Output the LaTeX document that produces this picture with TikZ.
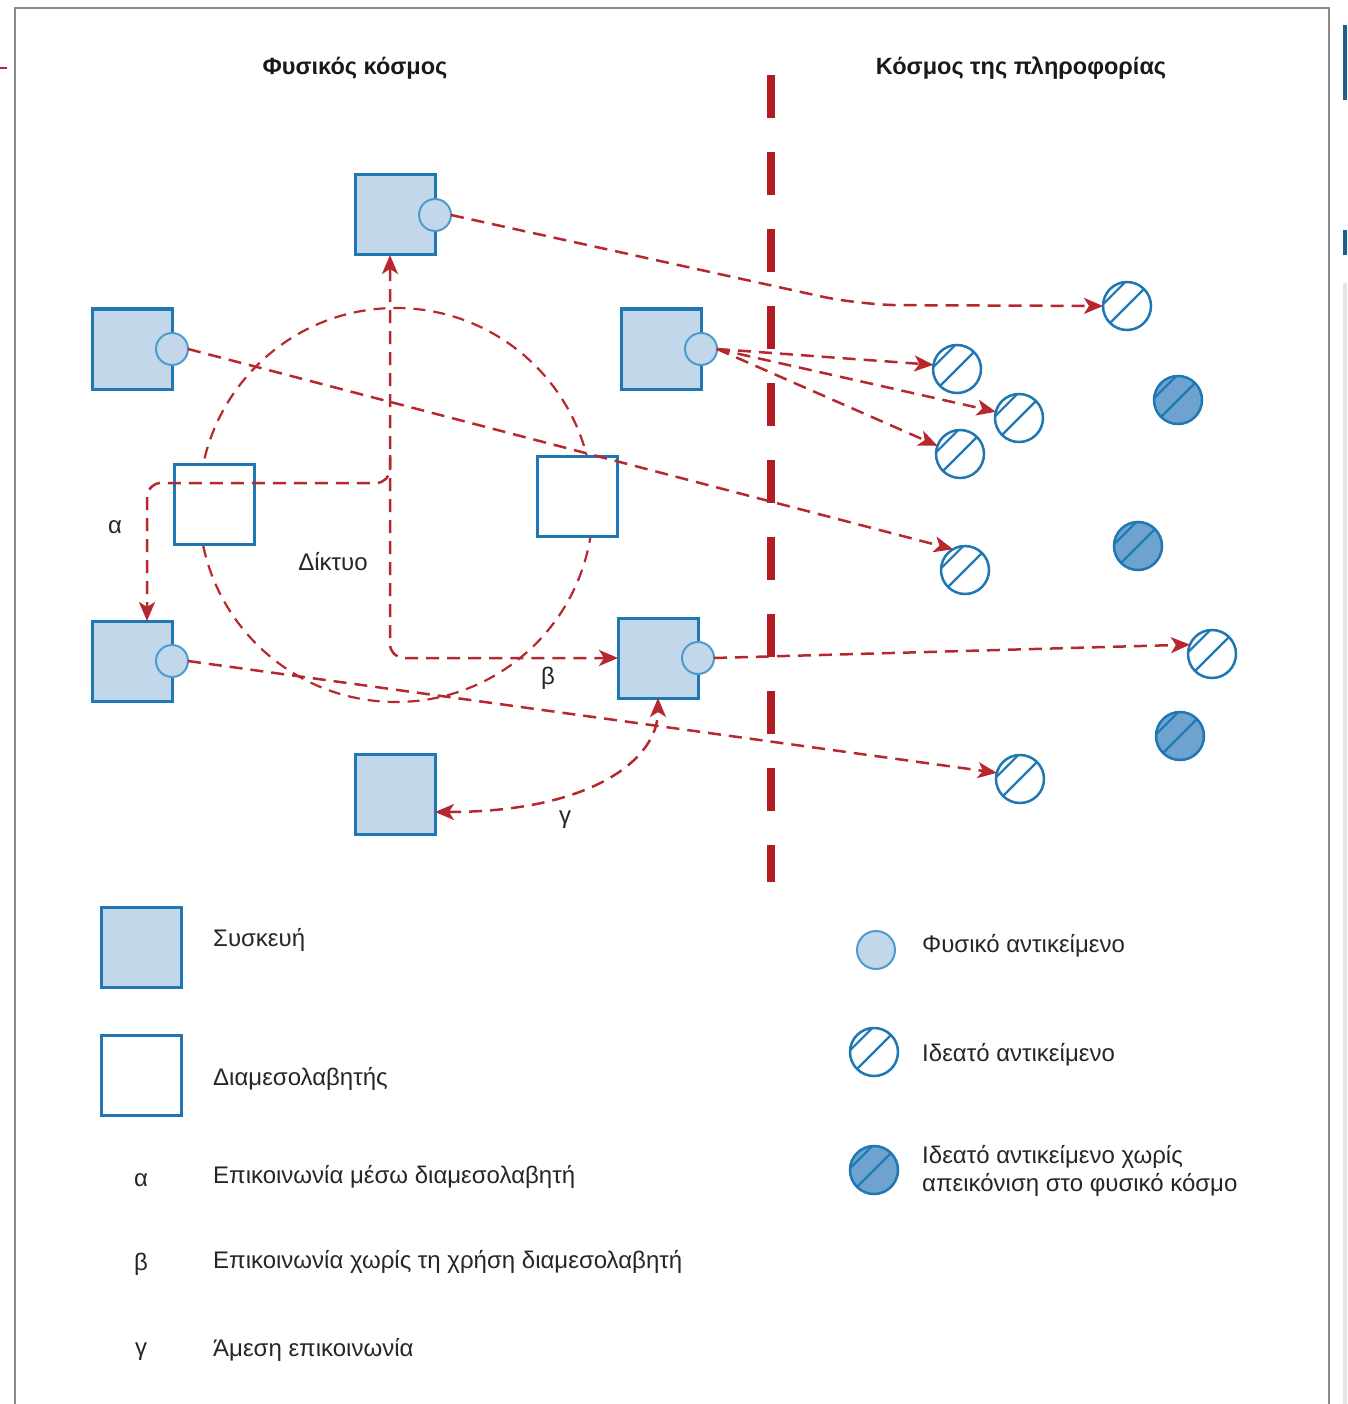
\documentclass[tikz,border=0pt]{standalone}
\usepackage{fontspec}
\setmainfont{Liberation Sans}
\usetikzlibrary{arrows.meta,calc}
\definecolor{devfill}{HTML}{C3D7EB}
\definecolor{bblue}{HTML}{1F78B4}
\definecolor{pblue}{HTML}{4B9CCD}
\definecolor{dfill}{HTML}{6EA3CF}
\definecolor{rred}{HTML}{B7282E}
\definecolor{sepred}{HTML}{B01C22}
\definecolor{framegray}{HTML}{8A8A8A}
\newcommand{\hatchcirc}[1]{\draw[hatchline] (#1.225) -- (#1.45); \draw[hatchline] (#1.176) -- (#1.94);}
\begin{document}
\begin{tikzpicture}[x=1pt,y=-1pt,
  device/.style={draw=bblue, fill=devfill, line width=3pt, minimum size=80pt, inner sep=0pt, outer sep=0pt},
  mediator/.style={draw=bblue, fill=white, line width=3pt, minimum size=80pt, inner sep=0pt, outer sep=0pt},
  physobj/.style={circle, draw=pblue, fill=devfill, line width=2pt, minimum size=32pt, inner sep=0pt, outer sep=0pt},
  idealobj/.style={circle, draw=bblue, fill=white, line width=2.5pt, minimum size=48pt, inner sep=0pt, outer sep=0pt},
  darkobj/.style={idealobj, fill=dfill},
  hatchline/.style={draw=bblue, line width=2.2pt},
  arr/.style={draw=rred, line width=2.5pt, dash pattern=on 13pt off 8pt, -{Stealth[length=19pt,width=16pt,inset=5pt]}},
  arrboth/.style={arr, {Stealth[length=19pt,width=16pt,inset=5pt]}-{Stealth[length=19pt,width=16pt,inset=5pt]}},
  netcircle/.style={circle, draw=rred, line width=2.2pt, dash pattern=on 12pt off 8pt, minimum size=394pt, inner sep=0pt},
  sep/.style={draw=sepred, line width=8pt, dash pattern=on 43pt off 34pt},
  lbl/.style={font=\fontsize{24}{28}\selectfont, inner sep=0pt, text=black!85},
  title/.style={font=\fontsize{23.5}{28}\selectfont\bfseries, inner sep=0pt, text=black!90},
  legtext/.style={lbl, anchor=west, align=left}
]
\useasboundingbox (0,0) rectangle (1347,1404);
\fill[white] (0,0) rectangle (1347,1404);
% frame and screenshot edges
\draw[framegray, line width=2pt] (15,1404) -- (15,8) -- (1329,8) -- (1329,1404);
\draw[rred, line width=1.5pt] (0,68) -- (7,68);
\fill[bblue!80!black] (1343,25) rectangle (1347,100);
\fill[bblue!80!black] (1343,230) rectangle (1347,255);
\fill[black!10] (1343,283) rectangle (1347,1404);

% titles
\node[title] (t1) at (355,68) {Φυσικός κόσμος};
\node[title] (t2) at (1021,68) {Κόσμος της πληροφορίας};

% separator
\draw[sep] (771,75) -- (771,882);

% network
\node[netcircle] (net) at (396,505) {};
\node[lbl] (netlbl) at (333,562) {Δίκτυο};

% mediators
\node[mediator] (M1) at (214,504) {};
\node[mediator] (M2) at (577,496) {};

% devices
\node[device] (D1) at (395,215) {};
\node[device] (D2) at (132,349) {};
\node[device] (D3) at (661,349) {};
\node[device] (D4) at (132,661) {};
\node[device] (D5) at (658,658) {};
\node[device] (D6) at (395,794) {};
\node[physobj] (P1) at (D1.east) {};
\node[physobj] (P2) at (D2.east) {};
\node[physobj] (P3) at (D3.east) {};
\node[physobj] (P4) at (D4.east) {};
\node[physobj] (P5) at (D5.east) {};

% ideal objects
\node[idealobj] (I1) at (1127,306) {}; \hatchcirc{I1}
\node[idealobj] (I2) at (957,369) {}; \hatchcirc{I2}
\node[idealobj] (I3) at (1019,418) {}; \hatchcirc{I3}
\node[idealobj] (I4) at (960,454) {}; \hatchcirc{I4}
\node[idealobj] (I5) at (965,570) {}; \hatchcirc{I5}
\node[idealobj] (I6) at (1212,654) {}; \hatchcirc{I6}
\node[idealobj] (I7) at (1020,779) {}; \hatchcirc{I7}
\node[darkobj] (N1) at (1178,400) {}; \hatchcirc{N1}
\node[darkobj] (N2) at (1138,546) {}; \hatchcirc{N2}
\node[darkobj] (N3) at (1180,736) {}; \hatchcirc{N3}

% communication arrows
\coordinate (ajoin) at (390,455);
\draw[arr, rounded corners=14pt] (ajoin) -- (390,483) -- (147,483) -- ($(D4.north)+(15,0)$);
\draw[arrboth, rounded corners=14pt] ($(D1.south)+(-5,0)$) -- (390,658) -- (D5.west);
\draw[arrboth] ($(D6.east)+(0,18)$) .. controls (590,812) and (658,760) .. (D5.south);
\node[lbl] (alab) at (115,527) {α};
\node[lbl] (blab) at (548,678) {β};
\node[lbl] (glab) at (565,820) {γ};

% mapping arrows
\draw[arr, rounded corners=40pt] (P1.east) -- (860,305) -- (I1.west);
\draw[arr] (P2.east) -- (I5.120);
\draw[arr] (P3.east) -- (I2.170);
\draw[arr] (P3.east) -- (I3.165);
\draw[arr] (P3.east) -- (I4.160);
\draw[arr] (P5.east) -- (I6.157);
\draw[arr] (P4.east) -- (I7.165);

% legend left
\node[device] (LD) at (141,947) {};
\node[legtext] (LDt) at (213,940) {Συσκευή};
\node[mediator] (LM) at (141,1075) {};
\node[legtext] (LMt) at (213,1079) {Διαμεσολαβητής};
\node[lbl] (La) at (141,1180) {α};
\node[legtext] (Lat) at (213,1177) {Επικοινωνία μέσω διαμεσολαβητή};
\node[lbl] (Lb) at (141,1264) {β};
\node[legtext] (Lbt) at (213,1262) {Επικοινωνία χωρίς τη χρήση διαμεσολαβητή};
\node[lbl] (Lg) at (141,1352) {γ};
\node[legtext] (Lgt) at (213,1350) {Άμεση επικοινωνία};

% legend right
\node[physobj, minimum size=38pt] (LP) at (876,950) {};
\node[legtext] (LPt) at (922,946) {Φυσικό αντικείμενο};
\node[idealobj] (LI) at (874,1052) {}; \hatchcirc{LI}
\node[legtext] (LIt) at (922,1055) {Ιδεατό αντικείμενο};
\node[darkobj] (LN) at (874,1170) {}; \hatchcirc{LN}
\node[legtext] (LNt) at (922,1171) {Ιδεατό αντικείμενο χωρίς\\απεικόνιση στο φυσικό κόσμο};
\end{tikzpicture}
\end{document}
